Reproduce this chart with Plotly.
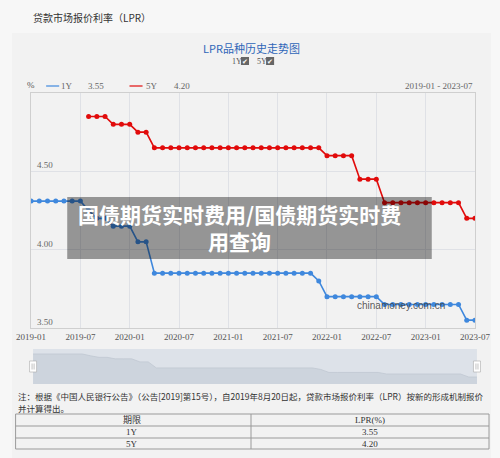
import plotly.graph_objects as go

# ---------------- data ----------------
months = [f"{y}-{m:02d}" for y in range(2019, 2024) for m in range(1, 13)][:55]

lpr_1y = ([4.31] * 7 + [4.25] + [4.20] * 2 + [4.15] * 3 + [4.05] * 2 +
          [3.85] * 20 + [3.80] + [3.70] * 7 + [3.65] * 10 + [3.55] * 2)
lpr_5y = ([None] * 7 + [4.85] * 3 + [4.80] * 3 + [4.75] * 2 + [4.65] * 21 +
          [4.60] * 4 + [4.45] * 3 + [4.30] * 10 + [4.20] * 2)

tick_labels = ["2019-01", "2019-07", "2020-01", "2020-07", "2021-01",
               "2021-07", "2022-01", "2022-07", "2023-01", "2023-07"]
y_ticks = [3.50, 4.00, 4.50]
y_tick_text = ["3.50", "4.00", "4.50"]

table_header = ["期限", "LPR(%)"]
table_rows = [["1Y", "3.55"], ["5Y", "4.20"]]

W, H = 500, 458
# observed: paper spans screen x 16..484
def px(x): return (x - 16) / 468
def py(y): return 1 - y / H

FONT = "Liberation Serif, Noto Sans CJK SC"
CJK = "Noto Sans CJK SC"
BLUE = "#3f88dd"
RED = "#e10b0b"

fig = go.Figure()

fig.add_trace(go.Scatter(x=months, y=lpr_1y, mode="lines+markers", name="1Y",
                         line=dict(color=BLUE, width=1.6),
                         marker=dict(size=5, color=BLUE),
                         xaxis="x", yaxis="y", showlegend=False))
fig.add_trace(go.Scatter(x=months, y=lpr_5y, mode="lines+markers", name="5Y",
                         line=dict(color=RED, width=1.6),
                         marker=dict(size=5, color=RED),
                         xaxis="x", yaxis="y", showlegend=False))

# slider data shadow
fig.add_trace(go.Scatter(x=months, y=lpr_1y, mode="lines", fill="tozeroy",
                         line=dict(color="#c0c8d2", width=0.8),
                         fillcolor="#cdd4dd", xaxis="x2", yaxis="y2",
                         showlegend=False, hoverinfo="skip"))

shapes = []
annotations = []

# panel background
shapes.append(dict(type="rect", xref="paper", yref="paper", layer="below",
                   x0=px(13), x1=px(490), y0=py(458), y1=py(33),
                   fillcolor="#f2f2f2", line=dict(width=0)))
# slider background
shapes.append(dict(type="rect", xref="paper", yref="paper", layer="below",
                   x0=px(34), x1=px(476), y0=py(384), y1=py(349),
                   fillcolor="#dde2e9", line=dict(width=0)))

# slider handles
for hx in (34, 476):
    shapes.append(dict(type="rect", xref="paper", yref="paper",
                       x0=px(hx - 3.5), x1=px(hx + 3.5), y0=py(372), y1=py(361),
                       fillcolor="#ffffff", line=dict(color="#aaaaaa", width=0.6)))
    for dx in (-1, 1):
        shapes.append(dict(type="line", xref="paper", yref="paper",
                           x0=px(hx + dx), x1=px(hx + dx), y0=py(369.5), y1=py(363.5),
                           line=dict(color="#999999", width=0.6)))

# watermark overlay
shapes.append(dict(type="rect", xref="paper", yref="paper", layer="above",
                   x0=px(68), x1=px(431), y0=py(259), y1=py(197),
                   fillcolor="rgba(0,0,0,0.385)", line=dict(width=0)))

# legend line segments
shapes.append(dict(type="line", xref="paper", yref="paper",
                   x0=px(47), x1=px(60), y0=py(86), y1=py(86),
                   line=dict(color=BLUE, width=1.2)))
shapes.append(dict(type="line", xref="paper", yref="paper",
                   x0=px(130), x1=px(143), y0=py(86), y1=py(86),
                   line=dict(color=RED, width=1.2)))

# checkboxes
for cx in (245, 270):
    shapes.append(dict(type="rect", xref="paper", yref="paper",
                       x0=px(cx - 4), x1=px(cx + 4), y0=py(65), y1=py(57),
                       fillcolor="#666666", line=dict(width=0)))
    annotations.append(dict(x=px(cx), y=py(61.5), xref="paper", yref="paper",
                            text="✔", showarrow=False, font=dict(size=7, color="white", family="DejaVu Sans"),
                            xanchor="center", yanchor="middle"))

# table
tx0, tx1, tmid = 16.6, 488, 251
row_y = [414, 426, 438, 449]
for ry in row_y:
    shapes.append(dict(type="line", xref="paper", yref="paper",
                       x0=px(tx0), x1=px(tx1), y0=py(ry), y1=py(ry),
                       line=dict(color="#9a9a9a", width=1)))
for vx in (tx0, tmid, tx1):
    shapes.append(dict(type="line", xref="paper", yref="paper",
                       x0=px(vx), x1=px(vx), y0=py(row_y[0]), y1=py(row_y[-1]),
                       line=dict(color="#9a9a9a", width=1)))
all_rows = [table_header] + table_rows
for i, row in enumerate(all_rows):
    yc = (row_y[i] + row_y[i + 1]) / 2
    for j, cell in enumerate(row):
        xc = 132.5 if j == 0 else 369.5
        annotations.append(dict(x=px(xc), y=py(yc), xref="paper", yref="paper",
                                text=cell, showarrow=False,
                                font=dict(size=9, color="#333333", family=FONT),
                                xanchor="center", yanchor="middle"))

def label(x, y, text, size=9, color="#555555", anchor="left", family=FONT):
    annotations.append(dict(x=px(x), y=py(y), xref="paper", yref="paper",
                            text=text, showarrow=False,
                            font=dict(size=size, color=color, family=family),
                            xanchor=anchor, yanchor="middle"))

label(32, 17, "贷款市场报价利率（LPR）", size=10, color="#333333", family=CJK)
label(251, 48, "LPR品种历史走势图", size=11, color="#2f66b8", anchor="center", family=CJK)
label(237, 61, "1Y", size=8, color="#555555", anchor="center")
label(262, 61, "5Y", size=8, color="#555555", anchor="center")
label(32, 85, "%", size=9, color="#555555", anchor="center")
label(68, 86, "1Y", size=9, color="#666666", anchor="center")
label(97, 86, "3.55", size=9, color="#666666", anchor="center")
label(152, 86, "5Y", size=9, color="#666666", anchor="center")
label(182, 86, "4.20", size=9, color="#666666", anchor="center")
label(474, 86, "2019-01 - 2023-07", size=9, color="#666666", anchor="right")

# y labels inside plot
for v, t in zip(y_ticks, y_tick_text):
    annotations.append(dict(x=px(36), y=v, xref="paper", yref="y", text=t,
                            showarrow=False, font=dict(size=9, color="#666666", family=FONT),
                            xanchor="left", yanchor="bottom", yshift=-1))

label(400, 305, "chinamoney.com.cn", size=10, color="rgba(60,60,60,0.85)", anchor="center",
      family="Liberation Sans")

# watermark text
annotations.append(dict(x=px(239.5), y=py(227), xref="paper", yref="paper",
                        text="<b>国债期货实时费用/国债期货实时费</b><br><b>用查询</b>",
                        showarrow=False, align="center",
                        font=dict(size=21, color="white", family=CJK),
                        xanchor="center", yanchor="middle"))

# note
label(16.5, 396, "注：根据《中国人民银行公告》（公告[2019]第15号），自2019年8月20日起，贷款市场报价利率（LPR）按新的形成机制报价",
      size=8.5, color="#333333", family=CJK)
label(16.5, 408, "并计算得出。", size=8.5, color="#333333", family=CJK)

fig.update_layout(
    width=W, height=H, autosize=False, margin=dict(l=0, r=0, t=0, b=0),
    paper_bgcolor="#f7f7f7", plot_bgcolor="rgba(0,0,0,0)",
    shapes=shapes, annotations=annotations,
    xaxis=dict(domain=[px(32), px(474)], type="category", range=[0, 54],
               tickmode="array", tickvals=tick_labels, ticktext=tick_labels,
               showgrid=True, gridcolor="#dfe1e6", gridwidth=1,
               showline=True, linecolor="#cfcfcf", mirror=True,
               ticks="", tickfont=dict(size=9, color="#555555", family=FONT),
               zeroline=False, fixedrange=True, anchor="y"),
    yaxis=dict(domain=[py(328), py(93)], range=[3.5, 5.0],
               tickvals=y_ticks, showticklabels=False,
               showgrid=True, gridcolor="#dfe1e6", gridwidth=1,
               showline=True, linecolor="#cfcfcf", mirror=True,
               zeroline=False, fixedrange=True, anchor="x"),
    xaxis2=dict(domain=[px(34), px(476)], type="category", range=[0, 54],
                visible=False, anchor="y2", fixedrange=True),
    yaxis2=dict(domain=[py(384), py(349)], range=[3.32, 4.475],
                visible=False, anchor="x2", fixedrange=True),
)

fig.write_html("out.html", config={"responsive": False, "displayModeBar": False})
